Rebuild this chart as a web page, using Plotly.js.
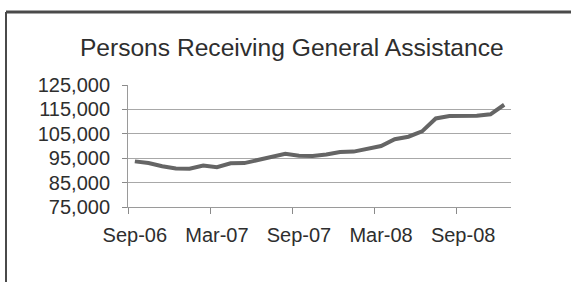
<!DOCTYPE html>
<html>
<head>
<meta charset="utf-8">
<script src="https://cdn.plot.ly/plotly-3.0.1.min.js"></script>
<style>
html,body{margin:0;padding:0;background:#fff;}
#chart{width:571px;height:282px;}
</style>
</head>
<body>
<div id="chart"></div>
<script>
// Monthly categories, Sep-06 .. Dec-08
const months = ["Sep-06","Oct-06","Nov-06","Dec-06","Jan-07","Feb-07","Mar-07","Apr-07","May-07","Jun-07","Jul-07","Aug-07",
                "Sep-07","Oct-07","Nov-07","Dec-07","Jan-08","Feb-08","Mar-08","Apr-08","May-08","Jun-08","Jul-08","Aug-08",
                "Sep-08","Oct-08","Nov-08","Dec-08"];
// Persons receiving general assistance
const persons = [93700,93000,91700,90800,90700,92000,91300,92900,93000,94200,95300,96800,
                 96000,95900,96500,97500,97700,99000,100000,102800,103800,106000,111300,112300,
                 112400,112400,113000,116900];
const yTicks = [75000,85000,95000,105000,115000,125000];
const labelEvery = 6;

const idx = months.map((m,i)=>i);
const labelIdx = idx.filter(i => i % labelEvery === 0);
const labelText = labelIdx.map(i => months[i]);
const tickBetween = labelIdx.map(i => i - 0.5);

const textColor = '#2e2e2e';
const font = {family:'"Liberation Sans", Arial, sans-serif', color:textColor};

const trace = {
  x: idx, y: persons, text: months, type:'scatter', mode:'lines',
  line:{color:'#656565', width:4}, hoverinfo:'text+y'
};

const layout = {
  width:571, height:282,
  margin:{l:128, r:60, t:85, b:75},
  paper_bgcolor:'#ffffff', plot_bgcolor:'#ffffff',
  showlegend:false,
  font: Object.assign({size:20}, font),
  title:{text:'Persons Receiving General Assistance', font:Object.assign({size:24.6}, font),
         xref:'container', yref:'container', x:0.511, y:0.833, xanchor:'center', yanchor:'middle'},
  xaxis:{
    range:[-0.5, months.length-0.5], tickmode:'array', tickvals:labelIdx, ticktext:labelText,
    ticks:'', showgrid:false, zeroline:false, showline:true, linecolor:'#9a9a9a', linewidth:1,
    tickfont:Object.assign({size:20}, font), ticklabelstandoff:10,
    minor:{tickmode:'array', tickvals:tickBetween, ticks:'outside', ticklen:6, tickcolor:'#8a8a8a', tickwidth:1, showgrid:false}
  },
  yaxis:{
    range:[75000,125000], tickmode:'array', tickvals:yTicks, tickformat:',d',
    ticks:'outside', ticklen:5, tickcolor:'#8a8a8a', tickwidth:1,
    showgrid:true, gridcolor:'#a8a8a8', gridwidth:1, zeroline:false,
    showline:true, linecolor:'#9a9a9a', linewidth:1,
    tickfont:Object.assign({size:20}, font), ticklabelstandoff:8
  },
  shapes:[
    {type:'line', xref:'paper', yref:'paper', x0:(6-128)/383, x1:(580-128)/383, y0:(207-12)/122, y1:(207-12)/122,
     line:{color:'#4a4a4a', width:3}},
    {type:'line', xref:'paper', yref:'paper', x0:(6-128)/383, x1:(6-128)/383, y0:(207-12)/122, y1:(207-290)/122,
     line:{color:'#4a4a4a', width:2}}
  ]
};

Plotly.newPlot('chart', [trace], layout, {staticPlot:true, displayModeBar:false});
</script>
</body>
</html>
